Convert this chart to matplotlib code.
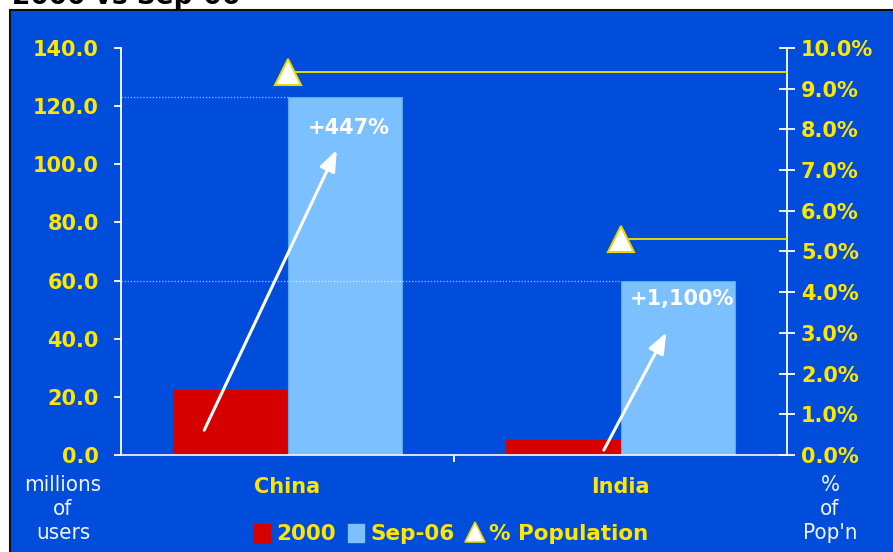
import matplotlib
matplotlib.use('Agg')
from matplotlib import pyplot as plt
from matplotlib.patches import Rectangle, Patch
from matplotlib.lines import Line2D

countries = ['China', 'India']
users_2000 = [22.5, 5.0]
users_sep06 = [123.0, 60.0]
pct_population = [9.4, 5.3]

BLUE = '#004ddc'
RED = '#d60000'
LIGHT = '#7dc0ff'
YELLOW = '#ffe600'
LINE_YELLOW = '#e8d800'

plt.rcParams['font.family'] = ['DejaVu Sans']


def graphing():
    fig = plt.figure(figsize=(8.93, 5.52), dpi=100, facecolor='white')

    # title strip, mostly cut off by the top edge
    fig.text(12 / 893, 1 - 3.5 / 552, '2000 vs Sep-06', fontsize=19,
             fontweight='bold', color='black', ha='left', va='baseline')

    # blue panel behind the chart
    fig.patches.append(Rectangle((10 / 893, -0.05), 1.0, 1.05 - 10 / 552,
                                 transform=fig.transFigure, facecolor=BLUE,
                                 edgecolor='#101010', linewidth=1.5,
                                 zorder=-5))

    ax = fig.add_axes([121 / 893, 1 - 455 / 552, 666 / 893, 407 / 552])
    ax.set_facecolor('none')
    ax2 = ax.twinx()

    x = list(range(len(countries)))
    w = 0.345
    ax.bar([i - w / 2 for i in x], users_2000, width=w, color=RED, zorder=2)
    ax.bar([i + w / 2 for i in x], users_sep06, width=w, color=LIGHT,
           edgecolor='#5aa8f0', linewidth=0.8, zorder=2)

    # dotted guides from the axis to the Sep-06 bar tops
    for i, v in zip(x, users_sep06):
        ax.plot([-0.5, i], [v, v], ls=(0, (1, 1.5)), color='white',
                lw=0.9, alpha=0.65, zorder=3)

    # growth arrows and labels
    for i, old, new in zip(x, users_2000, users_sep06):
        growth = (new / old - 1) * 100
        ax.annotate('', xy=(i + 0.148 - 0.01 * i, new * (0.853 - 0.15 * i)),
                    xytext=(i - 0.25 + 0.2 * i, old * (0.38 - 0.04 * i)),
                    arrowprops=dict(arrowstyle='-|>,head_length=0.9,head_width=0.35',
                                    mutation_scale=14, color='white', lw=2.2,
                                    shrinkA=0, shrinkB=0),
                    zorder=4)
        ax.text(i + 0.183, new - 10.5 + 4.2 * i, f'+{growth:,.0f}%',
                color='white', fontsize=15, fontweight='bold',
                ha='center', va='center', zorder=5)

    # % of population markers with leader lines to the right axis
    for i, p in zip(x, pct_population):
        ax2.plot([i, 1.5], [p, p], color=LINE_YELLOW, lw=1.4, zorder=3)
        ax2.plot([i], [p], marker='^', markersize=19, color='white',
                 markeredgecolor=LINE_YELLOW, markeredgewidth=1.5, zorder=4)

    ax.set_xlim(-0.5, 1.5)
    ax.set_ylim(0, 140)
    ax.set_yticks(range(0, 141, 20))
    ax.set_yticklabels([f'{v:.1f}' for v in range(0, 141, 20)])
    ax2.set_ylim(0, 10)
    ax2.set_yticks(range(0, 11))
    ax2.set_yticklabels([f'{v:.1f}%' for v in range(0, 11)])
    ax.set_xticks([0.5])
    ax.set_xticklabels([''])

    for a in (ax, ax2):
        for s in a.spines.values():
            s.set_visible(False)
    ax.spines['left'].set_visible(True)
    ax.spines['bottom'].set_visible(True)
    ax2.spines['right'].set_visible(True)
    ax.spines['left'].set_color('white')
    ax.spines['bottom'].set_color('#e8eeff')
    ax2.spines['right'].set_color('white')
    ax.spines['left'].set_linewidth(1.3)
    ax.spines['bottom'].set_linewidth(1.3)
    ax2.spines['right'].set_linewidth(1.3)

    ax.tick_params(axis='y', colors='white', labelcolor=YELLOW, length=5,
                   width=1.3, direction='out', pad=11, labelsize=15)
    ax.tick_params(axis='x', colors='white', length=5, width=1.3,
                   direction='out')
    ax2.tick_params(axis='y', colors='white', labelcolor=YELLOW, length=12,
                    width=1.3, direction='inout', pad=4, labelsize=15)
    for lab in ax.get_yticklabels() + ax2.get_yticklabels():
        lab.set_fontweight('bold')

    # category names under the bars
    for i, name in zip(x, countries):
        ax.text(i, -11, name, transform=ax.transData, color=YELLOW,
                fontsize=15, fontweight='bold', ha='center', va='center',
                clip_on=False)

    # axis unit captions
    unit_font = dict(family=['DejaVu Sans'], stretch='condensed',
                     fontsize=16, color='#f0f4ff', ha='center',
                     va='center', linespacing=1.22)
    fig.text(63 / 893, 1 - 509 / 552, 'millions\nof\nusers', **unit_font)
    fig.text(830 / 893, 1 - 509 / 552, "%\nof\nPop'n", **unit_font)

    handles = [Patch(facecolor=RED, edgecolor=RED),
               Patch(facecolor=LIGHT, edgecolor=LIGHT),
               Line2D([], [], ls='none', marker='^', markersize=15,
                      color='white', markeredgecolor=LINE_YELLOW,
                      markeredgewidth=1.2)]
    leg = fig.legend(handles, ['2000', 'Sep-06', '% Population'], ncol=3,
                     loc='center', bbox_to_anchor=(451 / 893, 1 - 534 / 552),
                     frameon=False, handlelength=0.75, handleheight=0.9,
                     handletextpad=0.3, columnspacing=0.55,
                     prop=dict(size=15.5, weight='bold'))
    for t in leg.get_texts():
        t.set_color(YELLOW)

    fig.savefig('out.png', dpi=100, facecolor='white')


if __name__ == "__main__":
    graphing()
